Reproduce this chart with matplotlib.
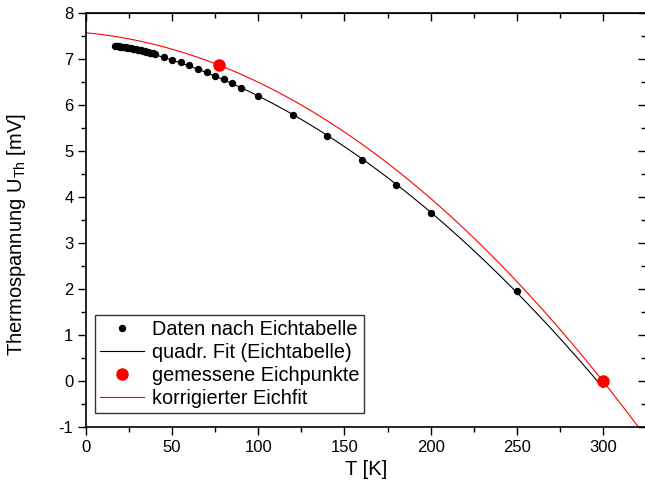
import numpy as np
import matplotlib
matplotlib.use('Agg')
import matplotlib.pyplot as plt
from matplotlib.ticker import MultipleLocator

plt.rcParams['font.family'] = ['Liberation Sans', 'DejaVu Sans']
plt.rcParams['mathtext.fontset'] = 'custom'
plt.rcParams['mathtext.rm'] = 'Liberation Sans'
plt.rcParams['axes.unicode_minus'] = False

# Eichtabelle (T in K, U in mV)
T_tab = [17, 18, 19, 20, 21, 22, 23, 24, 25, 26, 27, 28, 29, 30, 31, 32,
         33, 34, 35, 36, 37, 38, 39, 40,
         45, 50, 55, 60, 65, 70, 75, 80, 85, 90, 100,
         120, 140, 160, 180, 200, 250]
U_tab = [7.29, 7.285, 7.28, 7.27, 7.265, 7.26, 7.25, 7.245, 7.24, 7.23,
         7.225, 7.215, 7.21, 7.20, 7.19, 7.185, 7.175, 7.165, 7.16, 7.15,
         7.14, 7.13, 7.12, 7.11,
         7.04, 6.98, 6.93, 6.87, 6.78, 6.72, 6.63, 6.57, 6.47, 6.37, 6.20,
         5.78, 5.32, 4.81, 4.26, 3.65, 1.96]

# gemessene Eichpunkte
T_mess = [77, 300]
U_mess = [6.87, 0.0]

# korrigierter Eichfit: U = a + b*T + c*T^2
korr_coef = [7.57, -0.00352, -7.24e-5]

fit_coef = np.polyfit(T_tab, U_tab, 2)
T_fit = np.linspace(min(T_tab), 300, 300)
U_fit = np.polyval(fit_coef, T_fit)

T_korr = np.linspace(0, 330, 400)
U_korr = korr_coef[0] + korr_coef[1] * T_korr + korr_coef[2] * T_korr ** 2

fig = plt.figure(figsize=(6.45, 4.94), dpi=100)
ax = fig.add_axes([0.1333, 0.1356, 0.8682, 0.8381])

ax.plot(T_tab, U_tab, 'o', color='black', markersize=4.3, label='Daten nach Eichtabelle')
ax.plot(T_fit, U_fit, '-', color='black', linewidth=0.8, label='quadr. Fit (Eichtabelle)')
ax.plot(T_mess, U_mess, 'o', color='red', markersize=8, label='gemessene Eichpunkte', zorder=5)
ax.plot(T_korr, U_korr, '-', color='red', linewidth=0.8, label='korrigierter Eichfit')

ax.set_xlim(0, 325)
ax.set_ylim(-1, 8)
ax.xaxis.set_major_locator(MultipleLocator(50))
ax.xaxis.set_minor_locator(MultipleLocator(25))
ax.yaxis.set_major_locator(MultipleLocator(1))
ax.yaxis.set_minor_locator(MultipleLocator(0.5))

ax.tick_params(which='both', bottom=True, left=True, top=False, right=False,
               direction='out', labelsize=12, width=1, pad=3)
ax.tick_params(which='major', length=6)
ax.tick_params(which='minor', length=3.5)
for s in ax.spines.values():
    s.set_linewidth(1.2)

# inner ticks on top and right
sec_x = ax.secondary_xaxis('top')
sec_x.xaxis.set_major_locator(MultipleLocator(50))
sec_x.xaxis.set_minor_locator(MultipleLocator(25))
sec_x.tick_params(which='both', direction='in', labeltop=False, width=1)
sec_x.tick_params(which='major', length=6)
sec_x.tick_params(which='minor', length=3.5)
sec_y = ax.secondary_yaxis('right')
sec_y.yaxis.set_major_locator(MultipleLocator(1))
sec_y.yaxis.set_minor_locator(MultipleLocator(0.5))
sec_y.tick_params(which='both', direction='in', labelright=False, width=1)
sec_y.tick_params(which='major', length=6)
sec_y.tick_params(which='minor', length=3.5)

ax.set_xlabel('T [K]', fontsize=14.5, labelpad=4)
ax.set_ylabel('Thermospannung U$_\\mathregular{Th}$ [mV]', fontsize=14.5)
ax.yaxis.set_label_coords(-0.104, 0.465)

leg = ax.legend(loc='lower left', bbox_to_anchor=(0.016, 0.034), borderaxespad=0,
                fontsize=14.3, frameon=True, fancybox=False, edgecolor='black',
                handlelength=2.2, handletextpad=0.4, borderpad=0.25,
                labelspacing=0.2)
leg.get_frame().set_linewidth(1.0)

fig.savefig('out.png', dpi=100)
